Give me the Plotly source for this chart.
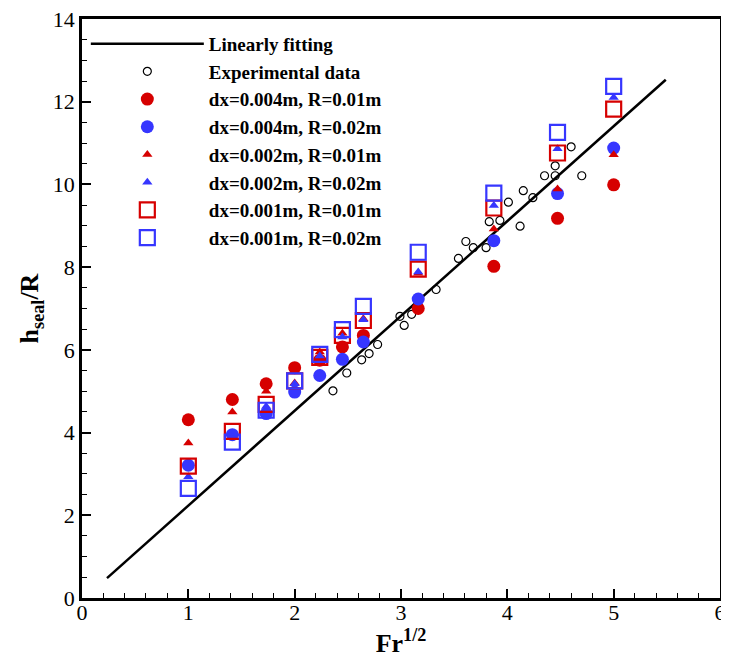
import plotly.graph_objects as go

# Linear fit endpoints
fit_x = [0.235, 5.49]
fit_y = [0.48, 12.53]

# Experimental data
exp_x = [2.36, 2.49, 2.63, 2.70, 2.78, 2.99, 3.03, 3.10, 3.33, 3.54, 3.61, 3.68,
         3.80, 3.83, 3.93, 4.01, 4.12, 4.15, 4.24, 4.35, 4.45, 4.45, 4.60, 4.70]
exp_y = [5.01, 5.44, 5.76, 5.91, 6.13, 6.81, 6.59, 6.86, 7.46, 8.21, 8.62, 8.47,
         8.47, 9.10, 9.13, 9.57, 8.99, 9.85, 9.68, 10.21, 10.21, 10.45, 10.91, 10.21]

# Simulation abscissa: Fr^(1/2)
sim_x = [1.0, 1.414, 1.732, 2.0, 2.236, 2.449, 2.646, 3.162, 3.873, 4.472, 5.0]

dx004_R001 = [4.31, 4.80, 5.18, 5.57, 5.75, 6.07, 6.35, 7.00, 8.02, 9.18, 9.99]
dx004_R002 = [3.21, 3.95, 4.46, 4.98, 5.38, 5.77, 6.19, 7.23, 8.64, 9.78, 10.88]
dx002_R001 = [3.75, 4.50, 5.00, 5.20, 5.95, 6.40, 6.75, 7.85, 8.92, 9.89, 10.72]
dx002_R002 = [2.93, 3.88, 4.63, 5.18, 5.85, 6.31, 6.73, 7.88, 9.49, 10.86, 12.10]
dx001_R001 = [3.19, 4.03, 4.68, 5.25, 5.82, 6.35, 6.71, 7.95, 9.43, 10.76, 11.82]
dx001_R002 = [2.65, 3.77, 4.54, 5.25, 5.89, 6.49, 7.05, 8.36, 9.79, 11.26, 12.37]

RED = "#d60000"
BLUE = "#3636ff"

fig = go.Figure()
fig.add_trace(go.Scatter(x=fit_x, y=fit_y, mode="lines", name="Linearly fitting",
                         line=dict(color="black", width=2.5)))
fig.add_trace(go.Scatter(x=exp_x, y=exp_y, mode="markers", name="Experimental data",
                         marker=dict(symbol="circle-open", size=8, color="black",
                                     line=dict(width=1.2, color="black"))))
fig.add_trace(go.Scatter(x=sim_x, y=dx004_R001, mode="markers", name="dx=0.004m, R=0.01m",
                         marker=dict(symbol="circle", size=13, color=RED)))
fig.add_trace(go.Scatter(x=sim_x, y=dx004_R002, mode="markers", name="dx=0.004m, R=0.02m",
                         marker=dict(symbol="circle", size=13, color=BLUE)))
fig.add_trace(go.Scatter(x=sim_x, y=dx002_R001, mode="markers", name="dx=0.002m, R=0.01m",
                         marker=dict(symbol="triangle-up", size=9, color=RED)))
fig.add_trace(go.Scatter(x=sim_x, y=dx002_R002, mode="markers", name="dx=0.002m, R=0.02m",
                         marker=dict(symbol="triangle-up", size=9, color=BLUE)))
fig.add_trace(go.Scatter(x=sim_x, y=dx001_R001, mode="markers", name="dx=0.001m, R=0.01m",
                         marker=dict(symbol="square-open", size=15, color=RED,
                                     line=dict(width=2.2, color=RED))))
fig.add_trace(go.Scatter(x=sim_x, y=dx001_R002, mode="markers", name="dx=0.001m, R=0.02m",
                         marker=dict(symbol="square-open", size=15, color=BLUE,
                                     line=dict(width=2.2, color=BLUE))))

axis_common = dict(
    showgrid=False, zeroline=False, showline=True, linecolor="black", linewidth=2.5,
    mirror=True, ticks="inside", ticklen=9, tickwidth=1.5, tickcolor="black",
    automargin=False, ticklabeloverflow="allow",
    tickfont=dict(family="Liberation Serif", size=22, color="black"),
)

fig.update_xaxes(range=[0, 6], dtick=1, tick0=0, ticklabelstandoff=-7,
                 minor=dict(dtick=0.2, ticks="inside", ticklen=5, tickwidth=1, tickcolor="black"),
                 title=dict(text="<b>Fr<sup>1/2</sup></b>", standoff=0,
                            font=dict(family="Liberation Serif", size=26, color="black")),
                 **axis_common)
fig.update_yaxes(range=[0, 14], dtick=2, tick0=0,
                 minor=dict(dtick=0.5, ticks="inside", ticklen=5, tickwidth=1, tickcolor="black"),
                 title=dict(text="<b>h<sub>seal</sub>/R</b>", standoff=7,
                            font=dict(family="Liberation Serif", size=26, color="black")),
                 **axis_common)

fig.update_layout(
    width=721, height=650,
    margin=dict(l=74, r=9, t=11, b=60, autoexpand=False),
    paper_bgcolor="white", plot_bgcolor="white",
    showlegend=True,
    legend=dict(x=0.006, y=0.99, xanchor="left", yanchor="top",
                bgcolor="rgba(0,0,0,0)", borderwidth=0, itemwidth=113,
                tracegroupgap=0,
                font=dict(family="Liberation Serif", size=19, color="black", weight="bold")),
)

fig.write_html("out.html")
